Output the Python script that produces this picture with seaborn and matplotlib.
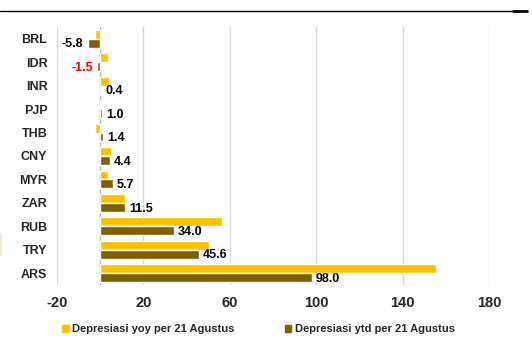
import matplotlib
matplotlib.use("Agg")
import matplotlib.pyplot as plt
from matplotlib.lines import Line2D
import seaborn as sns
import pandas as pd

currencies = ["BRL", "IDR", "INR", "PJP", "THB", "CNY", "MYR", "ZAR", "RUB", "TRY", "ARS"]
yoy_values = [-2.3, 3.4, 4.0, 0.3, -2.6, 5.2, 3.5, 11.6, 56.2, 50.2, 155.3]
ytd_values = [-5.8, -1.5, 0.4, 1.0, 1.4, 4.4, 5.7, 11.5, 34.0, 45.6, 98.0]
series_names = ["Depresiasi yoy per 21 Agustus", "Depresiasi ytd per 21 Agustus"]
x_ticks = [-20, 20, 60, 100, 140, 180]

df = pd.DataFrame({
    "mata_uang": currencies * 2,
    "nilai": yoy_values + ytd_values,
    "seri": [series_names[0]] * len(currencies) + [series_names[1]] * len(currencies),
})

sns.set_theme(style="white")
plt.rcParams["font.family"] = ["Liberation Sans", "DejaVu Sans"]

fig = plt.figure(figsize=(5.32, 3.38), dpi=100)
ax = fig.add_axes([57 / 532, 1 - 285 / 338, (489 - 57) / 532, (285 - 27) / 338])

palette = {series_names[0]: "#FFC000", series_names[1]: "#7F6000"}
sns.barplot(data=df, y="mata_uang", x="nilai", hue="seri", order=currencies,
            hue_order=series_names, palette=palette, orient="h", width=0.76,
            saturation=1, ax=ax, legend=False, zorder=3)

ax.set_xlim(-20, 180)
ax.set_xticks(x_ticks)
ax.set_xticklabels([str(t) for t in x_ticks], fontsize=10.5, fontweight="bold")
ax.set_xlabel("")
ax.set_ylabel("")
ax.tick_params(axis="x", length=0, pad=8)
ax.tick_params(axis="y", length=0, pad=7, labelsize=9)
for lbl in ax.get_yticklabels():
    lbl.set_fontweight("bold")

for s in ax.spines.values():
    s.set_visible(False)
ax.grid(axis="x", color="#D9D9D9", linewidth=1, zorder=0)
ax.axvline(0, color="#BFBFBF", linewidth=1, zorder=2)

# value labels on the ytd bars
for i, v in enumerate(ytd_values):
    y = i + 0.2 + 0.04
    color = "red" if v == -1.5 else "black"
    if v < 0:
        ax.text(v - 2.0, y, f"{v:.1f}", ha="right", va="center", fontsize=9,
                fontweight="bold", color=color, zorder=4)
    else:
        ax.text(v + 1.9, y, f"{v:.1f}", ha="left", va="center", fontsize=9,
                fontweight="bold", color=color, zorder=4)

handles = [plt.Rectangle((0, 0), 1, 1, color=palette[n]) for n in series_names]
fig.legend(handles, series_names, loc="center",
           bbox_to_anchor=(258.5 / 532, 1 - 329 / 338),
           ncol=2, frameon=False, handlelength=0.6, handleheight=0.6,
           handletextpad=0.3, columnspacing=4.5,
           prop={"weight": "bold", "size": 8})

# rule under the header
fig.add_artist(Line2D([0, 513 / 532], [1 - 10.5 / 338] * 2, color="black", linewidth=1))
fig.add_artist(Line2D([513 / 532, 527 / 532], [1 - 11 / 338] * 2, color="black", linewidth=2))
# faint mark at the left edge
fig.add_artist(Line2D([0.5 / 532] * 2, [1 - 234 / 338, 1 - 255 / 338],
                      color="#F6EBD6", linewidth=1.5))

fig.savefig("out.png", dpi=100)
